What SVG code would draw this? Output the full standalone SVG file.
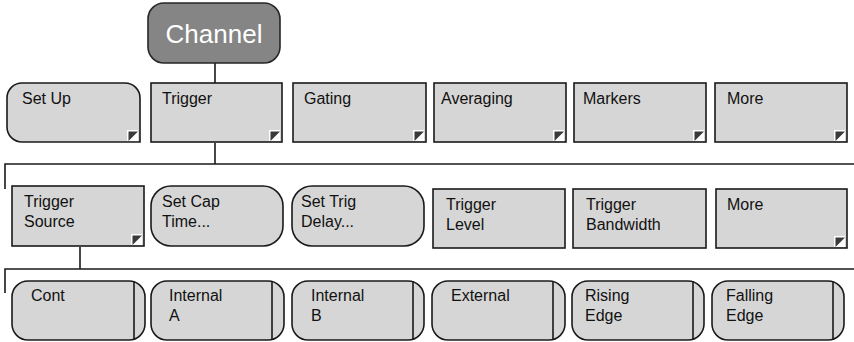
<svg xmlns="http://www.w3.org/2000/svg" width="854" height="342" viewBox="0 0 854 342">
<defs>
<style>
.box{fill:#d6d6d6;stroke:#1a1a1a;stroke-width:1.6}
.ch{fill:#858585;stroke:#262626;stroke-width:1.6}
.t{font-family:"Liberation Sans",Arial,sans-serif;font-size:16px;fill:#111}
.tc{font-family:"Liberation Sans",Arial,sans-serif;font-size:26px;fill:#fff;text-anchor:middle}
.ln{stroke:#1a1a1a;stroke-width:1.6;fill:none}
.sep{stroke:#1a1a1a;stroke-width:1.6}
</style>
<g id="mk">
<rect x="0" y="0" width="11" height="11" fill="#fff"/>
<polygon points="1.5,1.5 11,1.5 1.5,11" fill="#3a3a3a"/>
</g>
</defs>

<g id="connectors" class="ln">
<line x1="215" y1="63" x2="215" y2="83"/>
<line x1="215" y1="143" x2="215" y2="164"/>
<polyline points="5,189 5,164 854,164"/>
<line x1="80" y1="247" x2="80" y2="269"/>
<polyline points="5,293 5,269 854,269"/>
</g>

<g id="channel">
<rect class="ch" x="148" y="3" width="132" height="60" rx="16"/>
<text class="tc" x="214" y="43">Channel</text>
</g>

<g id="setup">
<path class="box" d="M22,83 H125 A15,15 0 0 1 140,98 V142 H22 A15,15 0 0 1 7,127 V98 A15,15 0 0 1 22,83 Z"/>
<use href="#mk" x="127" y="130"/>
<text class="t" x="22" y="104">Set Up</text>
</g>
<g id="trigger">
<rect class="box" x="151" y="83" width="131" height="59"/>
<use href="#mk" x="269" y="130"/>
<text class="t" x="162" y="104">Trigger</text>
</g>
<g id="gating">
<rect class="box" x="293" y="83" width="133" height="59"/>
<use href="#mk" x="413" y="130"/>
<text class="t" x="304" y="104">Gating</text>
</g>
<g id="averaging">
<rect class="box" x="434" y="83" width="132" height="59"/>
<use href="#mk" x="553" y="130"/>
<text class="t" x="441" y="104">Averaging</text>
</g>
<g id="markers">
<rect class="box" x="574" y="83" width="132" height="59"/>
<use href="#mk" x="693" y="130"/>
<text class="t" x="583" y="104">Markers</text>
</g>
<g id="more1">
<rect class="box" x="715" y="83" width="132" height="59"/>
<use href="#mk" x="834" y="130"/>
<text class="t" x="727" y="104">More</text>
</g>

<g id="triggersource">
<rect class="box" x="12" y="186" width="132" height="60"/>
<use href="#mk" x="131" y="234"/>
<text class="t" x="24" y="207">Trigger</text>
<text class="t" x="24" y="227">Source</text>
</g>
<g id="setcaptime">
<rect class="box" x="151" y="186" width="132" height="60" rx="20"/>
<text class="t" x="162" y="207">Set Cap</text>
<text class="t" x="162" y="227">Time...</text>
</g>
<g id="settrigdelay">
<rect class="box" x="292" y="186" width="132" height="60" rx="20"/>
<text class="t" x="301" y="207">Set Trig</text>
<text class="t" x="301" y="227">Delay...</text>
</g>
<g id="triggerlevel">
<rect class="box" x="433" y="189" width="132" height="59"/>
<text class="t" x="446" y="210">Trigger</text>
<text class="t" x="446" y="230">Level</text>
</g>
<g id="triggerbandwidth">
<rect class="box" x="573" y="189" width="133" height="59"/>
<text class="t" x="586" y="210">Trigger</text>
<text class="t" x="586" y="230">Bandwidth</text>
</g>
<g id="more2">
<rect class="box" x="716" y="189" width="131" height="59"/>
<use href="#mk" x="834" y="236"/>
<text class="t" x="727" y="210">More</text>
</g>

<g id="cont">
<rect class="box" x="12" y="281" width="133" height="59" rx="16"/>
<line class="sep" x1="134" y1="281" x2="134" y2="340"/>
<text class="t" x="31" y="301">Cont</text>
</g>
<g id="internala">
<rect class="box" x="151" y="281" width="133" height="59" rx="16"/>
<line class="sep" x1="272" y1="281" x2="272" y2="340"/>
<text class="t" x="169" y="301">Internal</text>
<text class="t" x="169" y="321">A</text>
</g>
<g id="internalb">
<rect class="box" x="292" y="281" width="132" height="59" rx="16"/>
<line class="sep" x1="413" y1="281" x2="413" y2="340"/>
<text class="t" x="311" y="301">Internal</text>
<text class="t" x="311" y="321">B</text>
</g>
<g id="external">
<rect class="box" x="432" y="281" width="133" height="59" rx="16"/>
<line class="sep" x1="553" y1="281" x2="553" y2="340"/>
<text class="t" x="451" y="301">External</text>
</g>
<g id="risingedge">
<rect class="box" x="572" y="281" width="132" height="59" rx="16"/>
<line class="sep" x1="693" y1="281" x2="693" y2="340"/>
<text class="t" x="585" y="301">Rising</text>
<text class="t" x="585" y="321">Edge</text>
</g>
<g id="fallingedge">
<rect class="box" x="712" y="281" width="132" height="59" rx="16"/>
<line class="sep" x1="833" y1="281" x2="833" y2="340"/>
<text class="t" x="726" y="301">Falling</text>
<text class="t" x="726" y="321">Edge</text>
</g>
</svg>
